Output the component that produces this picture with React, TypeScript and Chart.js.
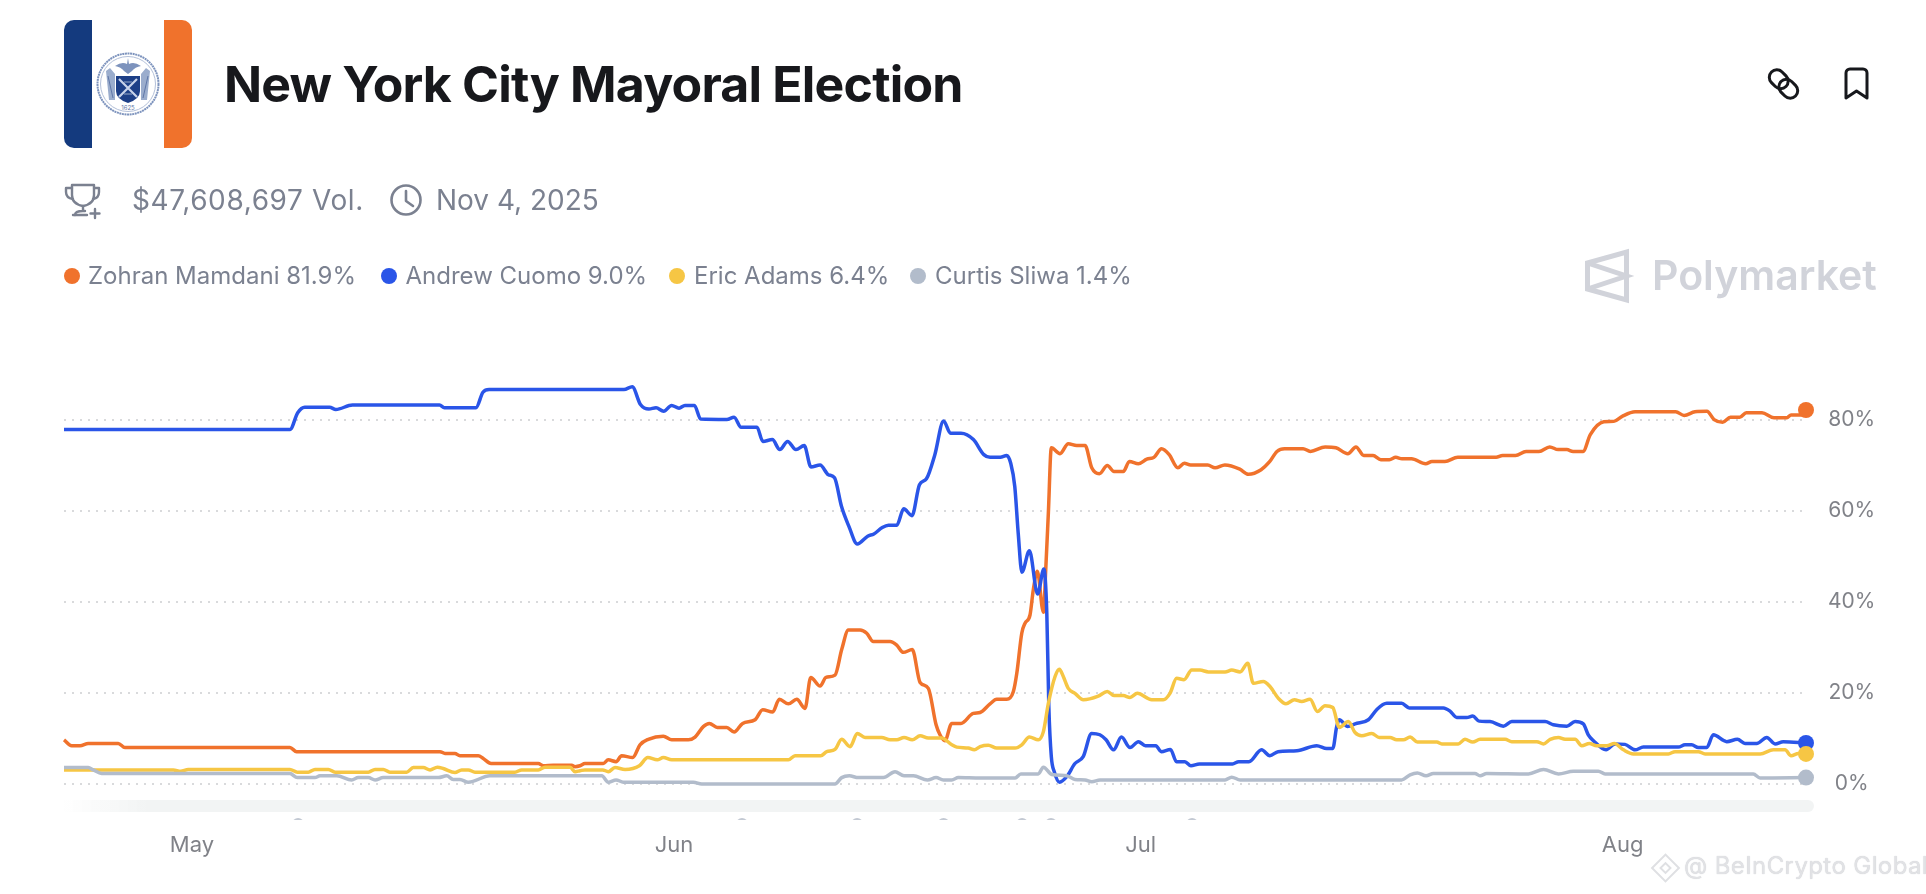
import { useEffect, useRef } from "react";
import { Chart, registerables, type Plugin } from "chart.js";

Chart.register(...registerables);

// every point is [days since May 1, chance in %]
const mamdani: [number, number][] = [
    [-8.23, 9.7], [-7.74, 8.4], [-7.2, 8.4], [-6.67, 8.9], [-4.74, 8.9], [-4.31, 8], [6.3, 8], [6.73, 7.1], [15.95, 7.1], [16.27, 6.7],
    [16.91, 6.7], [17.23, 6.2], [18.41, 6.2], [18.73, 5.6], [19.23, 4.5], [22.27, 4.5], [22.59, 4], [23.23, 4.1], [24.42, 4.1], [24.63, 3.8],
    [24.95, 4], [25.27, 4.5], [26.45, 4.5], [26.77, 5.3], [27.27, 4.9], [27.63, 6.2], [28.34, 5.8], [28.81, 8.6], [29.34, 9.8], [30.31, 10.5],
    [30.85, 9.7], [31.92, 9.7], [32.35, 10.3], [32.88, 12.6], [33.27, 13.3], [33.78, 12.4], [34.39, 12.4], [34.86, 11.4], [35.41, 13.3], [36.21, 14.1],
    [36.7, 16.3], [37.34, 15.8], [37.77, 18.6], [38.35, 17.6], [38.89, 18.6], [39.42, 16.6], [39.79, 23.4], [40.39, 21.5], [40.77, 23.4], [41.35, 23.9],
    [41.78, 29.5], [42.21, 33.8], [42.96, 33.8], [43.39, 33.1], [43.81, 31.3], [44.89, 31.3], [45.32, 30.5], [45.74, 28.9], [46.32, 29.5], [46.82, 22.3],
    [47.35, 21], [47.85, 13], [48.1, 10.8], [48.42, 9.5], [48.86, 13.3], [49.45, 13.3], [50.24, 15.5], [50.68, 15.7], [51.32, 17.6], [51.75, 18.6],
    [52.39, 18.6], [52.82, 20.3], [53.04, 24.3], [53.36, 33.1], [53.57, 35.3], [53.89, 37.1], [54.1, 42.6], [54.36, 46.7], [54.75, 37.7], [54.9, 47],
    [55.07, 59.5], [55.26, 73.8], [55.82, 72.5], [56.35, 74.7], [56.89, 74.3], [57.43, 74.3], [57.86, 69.4], [58.35, 68.1], [58.86, 69.9], [59.29, 68.6],
    [59.89, 68.6], [60.28, 70.8], [60.86, 70.3], [61.4, 71.3], [61.86, 71.7], [62.35, 73.6], [62.84, 72.3], [63.4, 69.4], [63.81, 70.4], [64.22, 70],
    [65.32, 70], [65.79, 69.4], [66.42, 70], [67.38, 69.1], [67.93, 68], [68.75, 69], [69.31, 70.8], [69.77, 73], [70.26, 73.6], [71.45, 73.6],
    [71.92, 73], [72.87, 74], [73.56, 73.8], [74.33, 72.5], [74.85, 74], [75.35, 72.1], [75.95, 72.1], [76.45, 71.2], [77, 71.2], [77.41, 71.7],
    [77.81, 71.4], [78.42, 71.4], [79.33, 70.3], [79.74, 70.8], [80.57, 70.8], [81.4, 71.7], [83.86, 71.7], [84.28, 72.1], [85.11, 72.1], [85.79, 73],
    [86.62, 73], [87.31, 74], [87.85, 73.4], [88.41, 73.4], [88.81, 73], [89.45, 73], [89.92, 76.7], [90.79, 79.5], [91.43, 79.6], [91.97, 80.7],
    [92.8, 81.7], [95.41, 81.7], [95.96, 80.9], [96.65, 81.7], [97.42, 81.8], [97.88, 80], [98.43, 79.4], [98.93, 80.5], [99.53, 80.5], [99.95, 81.5],
    [100.96, 81.5], [101.73, 80.4], [102.56, 80.4], [102.83, 81], [103.66, 81], [103.79, 82.1],
];

const cuomo: [number, number][] = [
    [-8.23, 77.8], [6.3, 77.8], [6.8, 81.5], [7.25, 82.7], [8.85, 82.7], [9.25, 82.2], [10.32, 83.2], [15.92, 83.2], [16.23, 82.6], [18.26, 82.6],
    [18.71, 86], [19.11, 86.6], [27.78, 86.6], [28.31, 87.2], [28.84, 83.3], [29.38, 82.3], [29.84, 82.6], [30.33, 81.8], [30.84, 83.1], [31.32, 82.5],
    [31.7, 83.1], [32.31, 83.1], [32.71, 80.1], [34.39, 80], [34.86, 80.5], [35.31, 78.3], [36.33, 78.3], [36.71, 75.2], [37.32, 75.6], [37.8, 73.4],
    [38.3, 75.2], [38.84, 73.4], [39.37, 74.3], [39.8, 69.6], [40.39, 70], [40.92, 67.9], [41.32, 67.2], [41.77, 60.9], [42.25, 56.5], [42.78, 52.7],
    [43.45, 54.4], [43.85, 54.9], [44.39, 56.3], [44.79, 56.8], [45.32, 56.8], [45.77, 60.4], [46.3, 58.9], [46.78, 65.7], [47.23, 67], [47.77, 72.3],
    [48.33, 79.7], [48.78, 77], [49.45, 77], [50.25, 75.6], [50.92, 72.3], [51.32, 71.7], [51.98, 71.7], [52.39, 72.1], [52.65, 70.4], [52.91, 65.3],
    [53.13, 55.1], [53.37, 46.5], [53.85, 51.2], [54.38, 41.7], [54.78, 47.2], [54.97, 37.5], [55.1, 17], [55.26, 6], [55.45, 2.7], [55.79, 0.4],
    [56.25, 1.6], [56.78, 4.5], [57.31, 6], [57.85, 11.1], [58.38, 10.8], [58.78, 9.7], [59.26, 7.5], [59.77, 10.3], [60.32, 8], [60.86, 9.3],
    [61.31, 8.4], [61.98, 8.4], [62.33, 7.1], [62.92, 7.6], [63.31, 4.9], [63.85, 4.9], [64.24, 4], [64.78, 4.4], [66.91, 4.4], [67.31, 4.9],
    [67.97, 4.9], [68.78, 7.5], [69.31, 6.2], [69.84, 7.1], [71.05, 7.3], [72.33, 8.4], [72.97, 7.8], [73.36, 7.8], [73.61, 12.6], [73.78, 14.1],
    [74.32, 12.6], [74.79, 13.2], [75.65, 14.1], [76.18, 16.3], [76.83, 17.7], [77.79, 17.7], [78.28, 16.7], [80.47, 16.7], [80.9, 16], [81.33, 14.6],
    [81.97, 14.6], [82.36, 14.9], [82.77, 13.8], [83.47, 13.7], [84.33, 12.7], [84.87, 13.7], [87.01, 13.7], [87.54, 13], [88.41, 12.7], [88.94, 13.7],
    [89.47, 13.2], [89.79, 10.8], [90.12, 9.5], [90.93, 7.5], [91.51, 8.8], [92.15, 8.7], [92.8, 7.5], [93.33, 8.1], [95.58, 8.1], [96.01, 8.6],
    [96.44, 8.6], [96.87, 8], [97.41, 8], [97.83, 10.8], [98.69, 9.3], [99.38, 9.8], [99.87, 8.9], [100.62, 8.9], [101.27, 10.2], [101.8, 8.8],
    [102.33, 9.3], [103.79, 9],
];

const adams: [number, number][] = [
    [-8.23, 3.1], [-1.2, 3.1], [-0.73, 2.8], [-0.24, 3.2], [6.3, 3.2], [6.77, 2.6], [7.48, 2.6], [7.91, 3.2], [8.77, 3.2], [9.2, 2.6],
    [11.34, 2.6], [11.77, 3.2], [12.3, 3.2], [12.73, 2.6], [13.81, 2.6], [14.23, 3.6], [14.87, 3.6], [15.31, 3.1], [15.78, 3.7], [16.16, 3.4],
    [16.91, 2.5], [17.34, 3.1], [17.77, 3.1], [18.2, 2.6], [20.77, 2.6], [21.2, 3.1], [22.27, 3.1], [22.7, 3.7], [24.31, 3.7], [24.63, 2.7],
    [24.95, 2.9], [25.27, 3.1], [26.41, 3.1], [26.77, 2.7], [27.2, 3.6], [27.85, 3.2], [28.77, 4], [29.31, 5.8], [29.92, 5.3], [30.31, 5.8],
    [30.85, 5.3], [38.35, 5.3], [38.78, 6.2], [40.43, 6.2], [40.82, 7.1], [41.35, 7.6], [41.78, 9.8], [42.32, 8.2], [42.78, 11.1], [43.28, 10.2],
    [44.35, 10.2], [44.89, 9.7], [45.32, 9.7], [45.79, 10.2], [46.32, 9.7], [46.82, 10.6], [47.35, 10.1], [48.21, 10.1], [48.86, 8.6], [49.18, 8.1],
    [49.92, 7.9], [50.31, 7.5], [50.68, 8.2], [51.21, 8.5], [51.75, 7.9], [52.93, 7.9], [53.36, 8.6], [53.85, 10.3], [54.42, 9.7], [54.75, 11.5],
    [55.07, 17.7], [55.5, 23.6], [55.78, 25.2], [56.03, 23.6], [56.35, 21], [56.78, 19.9], [57.32, 18.5], [58.28, 19.3], [58.86, 20.3], [59.29, 19.4],
    [59.89, 19.4], [60.32, 19], [60.79, 19.9], [61.72, 18.5], [62.46, 18.5], [62.89, 19.9], [63.32, 23.2], [63.79, 22.9], [64.29, 25], [64.82, 25],
    [65.36, 24.6], [66.43, 24.6], [66.86, 25], [67.4, 24.6], [67.89, 26.5], [68.25, 22.1], [68.89, 22.5], [69.32, 21.4], [69.86, 18.8], [70.35, 17.6],
    [70.89, 18.5], [71.36, 18.1], [71.9, 18.6], [72.37, 15.9], [72.86, 17.2], [73.36, 16.8], [73.78, 12.4], [74.36, 13.7], [74.79, 11.3], [75.22, 10.6],
    [75.87, 11.1], [76.35, 10.2], [77.04, 10.2], [77.47, 9.7], [77.9, 9.7], [78.33, 10.3], [78.8, 9.2], [80.05, 9.2], [80.37, 8.8], [81.43, 8.8],
    [81.86, 9.8], [82.36, 9.2], [82.83, 9.8], [84.44, 9.8], [84.87, 9.3], [86.48, 9.3], [86.91, 8.8], [87.34, 9.8], [87.87, 10.2], [88.3, 9.8],
    [88.94, 9.8], [89.37, 8.4], [89.86, 8.9], [90.33, 8.4], [90.98, 8.4], [91.47, 8.9], [92.05, 7.5], [92.69, 6.6], [94.94, 6.6], [95.37, 7.1],
    [96.87, 7.1], [97.3, 6.6], [100.84, 6.6], [101.69, 7.5], [102.44, 7.5], [102.83, 6.2], [103.3, 6.7], [103.79, 6.6],
];

const sliwa: [number, number][] = [
    [-8.23, 3.6], [-6.67, 3.6], [-6.35, 3.1], [-5.81, 2.3], [6.3, 2.3], [6.77, 1.4], [7.91, 1.4], [8.23, 1.8], [9.31, 1.8], [10.27, 0.9],
    [10.69, 1.4], [11.34, 1.4], [11.77, 0.9], [12.3, 1.4], [15.84, 1.4], [16.38, 1.8], [16.8, 1], [17.23, 1], [17.77, 0.4], [19.16, 1.8],
    [26.35, 1.8], [26.77, 0.4], [27.27, 0.9], [27.74, 0.4], [32.24, 0.4], [32.78, 0], [41.35, 0], [41.78, 1.4], [42.27, 1.8], [42.85, 1.4],
    [44.46, 1.4], [45.21, 2.7], [45.79, 1.8], [46.39, 1.8], [47.29, 0.9], [47.85, 1.4], [48.32, 0.9], [48.86, 0.9], [49.28, 1.4], [50.68, 1.3],
    [52.93, 1.3], [53.3, 2.2], [54.42, 2.2], [54.75, 3.7], [55.29, 2.1], [56.25, 1.8], [56.78, 1], [57.43, 0.9], [57.86, 0.5], [58.39, 0.9],
    [66.43, 0.9], [66.86, 1.5], [67.4, 0.9], [77.79, 0.9], [78.33, 2], [78.8, 2.4], [79.36, 1.8], [79.83, 2.3], [82.5, 2.3], [82.83, 1.8],
    [83.26, 2.3], [85.94, 2.2], [86.91, 3.2], [87.87, 2.2], [88.83, 2.8], [90.44, 2.8], [90.87, 2.2], [100.4, 2.2], [100.84, 1.3], [103.79, 1.4],
];

const seriesNames = ["Zohran Mamdani", "Andrew Cuomo", "Eric Adams", "Curtis Sliwa"];
const seriesLatest = ["81.9%", "9.0%", "6.4%", "1.4%"];
const seriesColors = ["#f0722c", "#2a55e8", "#f6c644", "#b2bccb"];
const seriesPoints = [mamdani, cuomo, adams, sliwa];

const monthTicks = [0, 31, 61, 92];
const monthLabels = ["May", "Jun", "Jul", "Aug"];
const percentTicks = [0, 20, 40, 60, 80];
const newsMarkerDays = [6.82, 35.37, 42.77, 48.33, 53.38, 55.24, 64.31];

const GREY_TEXT = "#7b8190";
const AXIS_TEXT = "#808288";

// the slider track and the little news bumps below the plot
const trackPlugin: Plugin<"line"> = {
    id: "track",
    beforeDraw(chart) {
        const { ctx, scales } = chart;
        const top = scales.y.bottom + 16;
        ctx.save();
        const fade = ctx.createLinearGradient(64, 0, 146, 0);
        fade.addColorStop(0, "rgba(242,244,244,0)");
        fade.addColorStop(1, "rgba(242,244,244,1)");
        ctx.fillStyle = fade;
        ctx.beginPath();
        ctx.roundRect(64, top, 1750, 12, [0, 6, 6, 0]);
        ctx.fill();
        ctx.beginPath();
        ctx.rect(0, top + 18, 1926, 2);
        ctx.clip();
        ctx.fillStyle = "#c3c9d3";
        for (const day of newsMarkerDays) {
            ctx.beginPath();
            ctx.arc(scales.x.getPixelForValue(day), top + 24, 6, 0, Math.PI * 2);
            ctx.fill();
        }
        ctx.restore();
    },
};

const LineChart = () => {
    const canvasRef = useRef<HTMLCanvasElement | null>(null);

    useEffect(() => {
        if (!canvasRef.current) return;

        const chart = new Chart(canvasRef.current, {
            type: "line",
            data: {
                datasets: seriesPoints.map((points, i) => ({
                    label: seriesNames[i],
                    data: points.map(([x, y]) => ({ x, y })),
                    borderColor: seriesColors[i],
                    backgroundColor: seriesColors[i],
                    borderWidth: 3.5,
                    cubicInterpolationMode: "monotone" as const,
                    pointRadius: (c: any) => (c.dataIndex === points.length - 1 ? 8 : 0),
                    pointBorderWidth: 0,
                    clip: false as const,
                    order: seriesPoints.length - i,
                })),
            },
            options: {
                responsive: false,
                animation: false,
                events: [],
                layout: { padding: { left: 64, top: 374 } },
                plugins: { legend: { display: false }, tooltip: { enabled: false } },
                scales: {
                    x: {
                        type: "linear",
                        min: -8.23,
                        max: 103.79,
                        grid: { display: false },
                        border: { display: false },
                        afterBuildTicks: (axis: any) => {
                            axis.ticks = monthTicks.map(value => ({ value }));
                        },
                        afterFit: (axis: any) => {
                            axis.height = 110;
                        },
                        ticks: {
                            autoSkip: false,
                            maxRotation: 0,
                            padding: 40,
                            color: AXIS_TEXT,
                            font: { family: "Inter", size: 22 },
                            callback: (_value: any, index: number) => monthLabels[index],
                        },
                    },
                    y: {
                        position: "right",
                        min: 0,
                        max: 90,
                        border: { display: false, dash: [2, 6] },
                        grid: { color: "#d9dadc", lineWidth: 2, drawTicks: false },
                        afterBuildTicks: (axis: any) => {
                            axis.ticks = percentTicks.map(value => ({ value }));
                        },
                        afterFit: (axis: any) => {
                            axis.width = 120;
                        },
                        ticks: {
                            padding: 22,
                            crossAlign: "center",
                            color: AXIS_TEXT,
                            font: { family: "Inter", size: 21 },
                            callback: (value: any) => `${value}%`,
                        },
                    },
                },
            },
            plugins: [trackPlugin],
        });

        return () => chart.destroy();
    }, []);

    return <canvas ref={canvasRef} width={1926} height={894} style={{ position: "absolute", left: 0, top: 0, display: "block" }} />;
};

const abs = (left: number, top: number): React.CSSProperties => ({ position: "absolute", left, top, whiteSpace: "nowrap" });

const Seal = () => (
    <svg width={64} height={64} viewBox="0 0 64 64" style={{ position: "absolute", left: 32, top: 32 }}>
        <circle cx={32} cy={32} r={30.5} fill="#fff" stroke="#7d93bd" strokeWidth={2} strokeDasharray="2 0.6" />
        <circle cx={32} cy={32} r={27.5} fill="none" stroke="#b3c0d9" strokeWidth={1} />
        <path d="M19 14 Q26 9 31 12 L32 6 L33 12 Q38 9 45 14 Q39 15 36 19 L32 22 L28 19 Q25 15 19 14 Z" fill="#7d93bd" />
        <path d="M20 24 H44 V39 Q44 47 32 51 Q20 47 20 39 Z" fill="#1d3f87" />
        <path d="M23 27 L41 45 M41 27 L23 45" stroke="#c9d4ea" strokeWidth={2.2} />
        <path d="M28 30 L36 30 M28 42 L36 42" stroke="#6f86b3" strokeWidth={1.6} />
        <path d="M10 19 L14 16 L19 22 L19 48 L13 48 Z M54 19 L50 16 L45 22 L45 48 L51 48 Z" fill="#9badcd" />
        <path d="M12 24 L17 46 M52 24 L47 46" stroke="#5f77a8" strokeWidth={1} />
        <text x={32} y={58} fontSize={6} fontFamily="Inter" fill="#5f77a8" textAnchor="middle">1625</text>
    </svg>
);

const Flag = () => (
    <div style={{ position: "absolute", left: 64, top: 20, width: 128, height: 128, borderRadius: 10, overflow: "hidden", background: "#fff" }}>
        <div style={{ position: "absolute", left: 0, top: 0, width: 28, height: 128, background: "#143a7e" }} />
        <div style={{ position: "absolute", left: 100, top: 0, width: 28, height: 128, background: "#f0722c" }} />
        <Seal />
    </div>
);

const Icons = () => (
    <svg width={1926} height={894} style={{ position: "absolute", left: 0, top: 0, pointerEvents: "none" }}>
        {/* link */}
        <g fill="none" stroke="#17181c" strokeWidth={3} transform="rotate(45 1783.5 84)">
            <rect x={1766.5} y={76.5} width={20.5} height={15} rx={7.5} />
            <rect x={1780} y={76.5} width={20.5} height={15} rx={7.5} />
        </g>
        {/* bookmark */}
        <path d="M1846 98 V73 a4 4 0 0 1 4 -4 h13 a4 4 0 0 1 4 4 V98 L1856.5 91 Z" fill="none" stroke="#17181c" strokeWidth={3} strokeLinejoin="round" />
        {/* trophy with plus */}
        <g fill="none" stroke={GREY_TEXT} strokeWidth={2.4} strokeLinejoin="round" strokeLinecap="round">
            <path d="M72 185 H94 V195 Q94 204 83 206 Q72 204 72 195 Z" />
            <path d="M72 188 H66 V192 Q66 198 73 199 M94 188 H99 V192 Q99 198 93 199" />
            <path d="M83 206 V211 M75 215 Q75 211 83 211 L85 211" />
            <path d="M73 215 H87 M95 209 V218 M90.500 213.500 H99.500" />
        </g>
        {/* clock */}
        <g fill="none" stroke={GREY_TEXT} strokeWidth={2.6} strokeLinecap="round" strokeLinejoin="round">
            <circle cx={406} cy={200} r={14.5} />
            <path d="M406 191 V201 L413 206" />
        </g>
        {/* polymarket logo */}
        <g fill="none" stroke="#d1d3da" strokeWidth={5}>
            <path d="M1587.500 263 L1626.500 252 V300 L1587.500 289 Z" />
            <path d="M1587.500 263 L1626.500 276 L1587.500 289" />
        </g>
        {/* watermark logo */}
        <g fill="none" stroke="#dfe0e3" strokeWidth={2} transform="rotate(45 1665.500 868)">
            <rect x={1656} y={858.500} width={19} height={19} />
            <rect x={1662} y={864.500} width={7} height={7} />
        </g>
    </svg>
);

const Header = () => (
    <>
        <Flag />
        <div style={{ ...abs(224, 53.5), fontFamily: "Inter", fontSize: 50, lineHeight: "60px", fontWeight: 700, letterSpacing: -0.8, color: "#17181c" }}>
            New York City Mayoral Election
        </div>
        <div style={{ ...abs(132, 183.8), fontFamily: "Inter", fontSize: 28, lineHeight: "32px", letterSpacing: 0.6, color: GREY_TEXT }}>$47,608,697 Vol.</div>
        <div style={{ ...abs(436, 183.8), fontFamily: "Inter", fontSize: 28, lineHeight: "32px", color: GREY_TEXT }}>Nov 4, 2025</div>
        {seriesNames.map((name, i) => (
            <div key={name}>
                <div style={{ position: "absolute", left: [64, 381, 669, 910][i], top: 268, width: 16, height: 16, borderRadius: 8, background: seriesColors[i] }} />
                <div style={{ ...abs([88, 405.5, 694, 935][i], 262.2), fontFamily: "Inter", fontSize: 24, lineHeight: "28px", color: GREY_TEXT }}>
                    {name} {seriesLatest[i]}
                </div>
            </div>
        ))}
        <div style={{ ...abs(1652, 248), fontFamily: "Inter", fontSize: 41, lineHeight: "54px", fontWeight: 600, color: "#d1d3da" }}>Polymarket</div>
        <div style={{ ...abs(1684, 851), fontFamily: "Inter", fontSize: 24, lineHeight: "30px", letterSpacing: 0.4, color: "#e1e2e5", textShadow: "0 0 1px #c9cacd" }}>@ BeInCrypto Global</div>
    </>
);

export default function App() {
    return (
        <div style={{ position: "absolute", left: 0, top: 0, width: 1926, height: 894, overflow: "hidden", background: "#fff" }}>
            <LineChart />
            <Header />
            <Icons />
        </div>
    );
}
